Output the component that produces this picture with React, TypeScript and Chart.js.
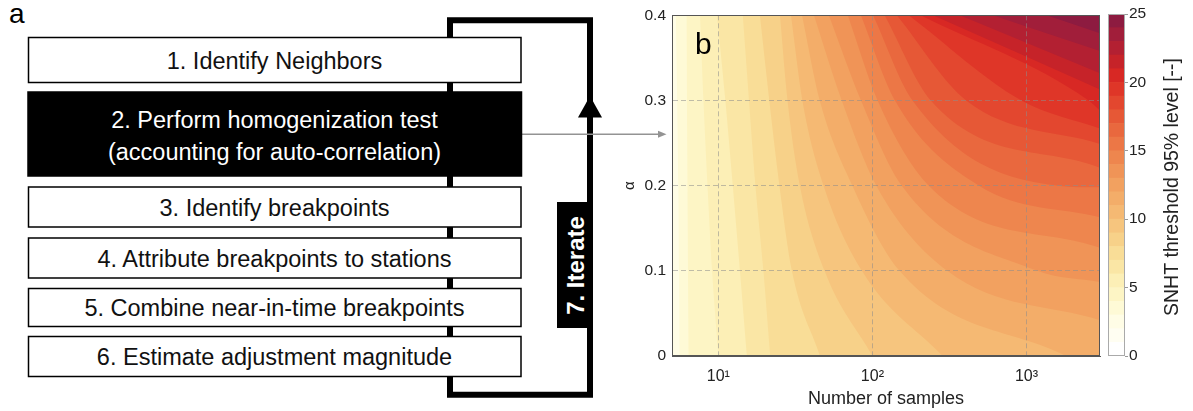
import React, { useEffect, useRef } from 'react';
import { Chart, registerables } from 'chart.js';

Chart.register(...registerables);

const FONT = "'Liberation Sans', Arial, Helvetica, sans-serif";

// ---------------- panel a : flow chart text ----------------
const PANEL_A_LABEL = 'a';
const PANEL_B_LABEL = 'b';
const STEP_LINES: string[][] = [
  ['1. Identify Neighbors'],
  ['2. Perform homogenization test', '(accounting for auto-correlation)'],
  ['3. Identify breakpoints'],
  ['4. Attribute breakpoints to stations'],
  ['5. Combine near-in-time breakpoints'],
  ['6. Estimate adjustment magnitude'],
];
const ITERATE_TEXT = '7. Iterate';

// ---------------- panel b : data ----------------
const X_RANGE = [5, 3000];
const Y_RANGE = [0, 0.4];
const X_TICKS = [10, 100, 1000];
const X_TICK_LABELS = ['10¹', '10²', '10³'];
const Y_TICKS = [0, 0.1, 0.2, 0.3, 0.4];
const Y_TICK_LABELS = ['0', '0.1', '0.2', '0.3', '0.4'];
const X_TITLE = 'Number of samples';
const Y_TITLE = 'α';
const CB_TITLE = 'SNHT threshold 95% level [--]';
const CB_EDGES = [0, 1, 2, 3, 4, 5, 6, 7, 8, 9, 10, 11, 12, 13, 14, 15, 16, 17, 18, 19, 20, 21, 22, 23, 24, 25];
const CB_TICKS = [0, 5, 10, 15, 20, 25];

// colour of the band [k, k+1]
const BAND_COLORS = [
  '#ffffff', '#fffef2', '#fffde6', '#fefad6', '#fdf5c5',
  '#fcefb6', '#fae6a5', '#f9dd97', '#f7d189', '#f6c57e',
  '#f5b973', '#f3ad69', '#f2a160', '#f09457', '#ee864e',
  '#ec7746', '#e9683e', '#e65836', '#e3472f', '#df3628',
  '#d82824', '#c62329', '#b32032', '#a11e3a', '#8d1b40',
];

// contour levels and, for each, the number of samples where it crosses alpha = 0.4, 0.3, 0.2, 0.1, 0
const ALPHA_ROWS = [0.4, 0.3, 0.2, 0.1, 0];
const LEVELS = [3, 4, 5, 6, 7, 8, 9, 10, 11, 12, 13, 14, 15, 16, 17, 18, 19, 20, 21, 22, 23, 24];
const CONTOUR_N: (number | null)[][] = [
  [5.3, 5.4, 5.5, 5.55, 5.6],
  [6.2, 6.25, 6.3, 6.35, 6.4],
  [7.6, 8.0, 8.5, 9.1, 10],
  [9.8, 11.1, 12.4, 13.8, 15.3],
  [14.4, 15.8, 17.4, 19.6, 21.7],
  [18.6, 21.4, 24.9, 30.0, 45.6],
  [25.1, 28.1, 33.8, 48.9, 100],
  [29.6, 35.1, 48.2, 85.5, 285],
  [34.9, 45.5, 74.1, 150, 1800],
  [41.7, 63.2, 106, 306, null],
  [52.1, 84.3, 155, 1180, null],
  [69.2, 108, 232, null, null],
  [84.1, 140, 492, null, null],
  [101, 182, 1600, null, null],
  [120, 239, null, null, null],
  [144, 406, null, null, null],
  [172, 927, null, null, null],
  [206, 2530, null, null, null],
  [247, null, null, null, null],
  [369, null, null, null, null],
  [604, null, null, null, null],
  [1352, null, null, null, null],
];
// alpha where each contour meets the right edge (N = 3000); null when it leaves through the bottom
const EDGE_ALPHA: (number | null)[] = [
  null, null, null, null, null, null, null, null, null,
  0.042, 0.087, 0.127, 0.163, 0.198, 0.221, 0.249, 0.267, 0.288, 0.313, 0.332, 0.358, 0.379,
];

// ---------------- layout of panel a (positions only) ----------------
const BOXES = [
  { x: 28.5, y: 37.5, w: 492.5, h: 45, dark: false, baselines: [69] },
  { x: 28, y: 92, w: 493.5, h: 84, dark: true, baselines: [128, 160] },
  { x: 28.5, y: 187, w: 492.5, h: 40, dark: false, baselines: [215.5] },
  { x: 28.5, y: 238, w: 492.5, h: 40, dark: false, baselines: [267] },
  { x: 28.5, y: 288.5, w: 492.5, h: 38, dark: false, baselines: [316] },
  { x: 28.5, y: 336.5, w: 492.5, h: 40, dark: false, baselines: [364.5] },
];

const GRID_COLOR = 'rgba(140,140,140,0.55)';
const TEXT_COLOR = '#222';

function contourPoints(i: number) {
  const pts: { x: number; y: number }[] = [];
  CONTOUR_N[i].forEach((n, j) => {
    if (n != null) pts.push({ x: n, y: ALPHA_ROWS[j] });
  });
  const edge = EDGE_ALPHA[i];
  if (edge != null) {
    pts.push({ x: X_RANGE[1], y: edge });
  } else {
    // continue the contour just below the axis so the band covers the columns to its right
    const a = pts[pts.length - 2];
    const b = pts[pts.length - 1];
    const ub = Math.log10(b.x);
    const ua = Math.log10(a.x);
    pts.push({ x: Math.pow(10, ub + 0.5 * (ub - ua)), y: -0.05 });
    pts.push({ x: X_RANGE[1] * 10, y: -0.05 });
  }
  return pts;
}

export default function App() {
  const mainRef = useRef<HTMLCanvasElement>(null);
  const cbRef = useRef<HTMLCanvasElement>(null);

  useEffect(() => {
    Chart.defaults.font.family = FONT;
    Chart.defaults.color = TEXT_COLOR;

    const panelPlugin = {
      id: 'panelB',
      beforeDatasetsDraw(chart: any) {
        const { ctx, chartArea: a } = chart;
        ctx.save();
        ctx.fillStyle = BAND_COLORS[LEVELS[0] - 1];
        ctx.fillRect(a.left, a.top, a.right - a.left, a.bottom - a.top);
        ctx.restore();
      },
      afterDraw(chart: any) {
        const { ctx, chartArea: a } = chart;
        ctx.save();
        ctx.strokeStyle = '#555';
        ctx.lineWidth = 1;
        ctx.strokeRect(Math.round(a.left) + 0.5, Math.round(a.top) + 0.5, Math.round(a.right - a.left) - 1, Math.round(a.bottom - a.top) - 1);
        ctx.fillStyle = '#000';
        ctx.font = `30px ${FONT}`;
        ctx.textBaseline = 'alphabetic';
        ctx.textAlign = 'left';
        ctx.fillText(PANEL_B_LABEL, a.left + 23, a.top + 39);
        ctx.restore();
      },
    };

    const datasets = LEVELS.map((L, i) => ({
      label: String(L),
      data: contourPoints(i),
      backgroundColor: BAND_COLORS[L],
      borderColor: 'rgba(0,0,0,0)',
      borderWidth: 0,
      pointRadius: 0,
      fill: 'end',
      cubicInterpolationMode: 'monotone',
      capBezierPoints: false,
      order: -L,
    }));

    const gridColor = (c: any) =>
      c.tick && (c.tick.value === Y_RANGE[0] || c.tick.value === Y_RANGE[1]) ? 'rgba(0,0,0,0)' : GRID_COLOR;

    const main = new Chart(mainRef.current as HTMLCanvasElement, {
      type: 'line',
      data: { datasets } as any,
      options: {
        responsive: false,
        animation: false,
        events: [],
        layout: { padding: { top: 14, right: 2, left: 0, bottom: 0 } },
        plugins: { legend: { display: false }, tooltip: { enabled: false } },
        scales: {
          x: {
            type: 'logarithmic',
            min: X_RANGE[0],
            max: X_RANGE[1],
            afterFit: (s: any) => { s.height = 55; },
            afterBuildTicks: (s: any) => { s.ticks = X_TICKS.map((v) => ({ value: v })); },
            ticks: {
              callback: (_v: any, i: number) => X_TICK_LABELS[i],
              font: { size: 16 },
              color: TEXT_COLOR,
              padding: 11,
              maxRotation: 0,
              autoSkip: false,
            },
            grid: { color: GRID_COLOR, lineWidth: 1, drawTicks: false, z: 1 },
            border: { display: true, color: '#555', width: 1, dash: [5, 3], z: 1 },
            title: { display: true, text: X_TITLE, font: { size: 18 }, color: TEXT_COLOR, padding: { top: 0, bottom: 1 } },
          },
          y: {
            type: 'linear',
            min: Y_RANGE[0],
            max: Y_RANGE[1],
            afterFit: (s: any) => { s.width = 72; },
            afterBuildTicks: (s: any) => { s.ticks = Y_TICKS.map((v) => ({ value: v })); },
            ticks: {
              callback: (_v: any, i: number) => Y_TICK_LABELS[i],
              font: { size: 15.5 },
              color: TEXT_COLOR,
              padding: 6,
            },
            grid: { color: gridColor, lineWidth: 1, drawTicks: false, z: 1 },
            border: { display: true, color: '#555', width: 1, dash: [5, 3], z: 1 },
            title: { display: true, text: Y_TITLE, font: { size: 15 }, color: TEXT_COLOR, padding: { top: 21, bottom: 0 } },
          },
        },
      } as any,
      plugins: [panelPlugin],
    });

    const cbPlugin = {
      id: 'cbFrame',
      afterDraw(chart: any) {
        const { ctx, chartArea: a } = chart;
        ctx.save();
        ctx.strokeStyle = '#aaa';
        ctx.lineWidth = 1;
        ctx.strokeRect(Math.round(a.left) + 0.5, Math.round(a.top) + 0.5, Math.round(a.right - a.left) - 1, Math.round(a.bottom - a.top) - 1);
        ctx.translate(73, (a.top + a.bottom) / 2 + 2);
        ctx.rotate(-Math.PI / 2);
        ctx.fillStyle = TEXT_COLOR;
        ctx.font = `19.5px ${FONT}`;
        ctx.textAlign = 'center';
        ctx.textBaseline = 'middle';
        ctx.fillText(CB_TITLE, 0, 0);
        ctx.restore();
      },
    };

    const cb = new Chart(cbRef.current as HTMLCanvasElement, {
      type: 'bar',
      data: {
        labels: [''],
        datasets: BAND_COLORS.map((c, i) => ({
          data: [[CB_EDGES[i], CB_EDGES[i + 1]]],
          backgroundColor: c,
          borderWidth: 0,
          grouped: false,
          barPercentage: 1,
          categoryPercentage: 1,
        })),
      } as any,
      options: {
        responsive: false,
        animation: false,
        events: [],
        layout: { padding: { top: 14, left: 8, right: 0, bottom: 55 } },
        plugins: { legend: { display: false }, tooltip: { enabled: false } },
        scales: {
          x: { display: false },
          y: {
            position: 'right',
            min: CB_EDGES[0],
            max: CB_EDGES[CB_EDGES.length - 1],
            afterFit: (s: any) => { s.width = 68; },
            afterBuildTicks: (s: any) => { s.ticks = CB_TICKS.map((v) => ({ value: v })); },
            ticks: { font: { size: 15.5 }, color: TEXT_COLOR, padding: 1 },
            grid: { drawOnChartArea: false, drawTicks: true, tickLength: 3, color: '#999' },
            border: { display: false },
          },
        },
      } as any,
      plugins: [cbPlugin],
    });

    return () => {
      main.destroy();
      cb.destroy();
    };
  }, []);

  return (
    <div style={{ position: 'absolute', left: 0, top: 0, width: 1193, height: 411, background: '#fff', overflow: 'hidden' }}>
      <svg width={1193} height={411} style={{ position: 'absolute', left: 0, top: 0 }} fontFamily={FONT}>
        <text x={9} y={23} fontSize={28} fill="#000">{PANEL_A_LABEL}</text>
        {/* iteration loop */}
        <path d="M590 202 V20.3 H450 V394.7 H590 V328" stroke="#000" strokeWidth={6} fill="none" strokeLinejoin="miter" />
        <polygon points="590,96 578,117.5 602,117.5" fill="#000" />
        {/* link to panel b */}
        <line x1={522} y1={134.3} x2={659} y2={134.3} stroke="#939393" strokeWidth={1.5} />
        <polygon points="658,130.8 666.5,134.3 658,137.8" fill="#939393" />
        {BOXES.map((b, i) => (
          <g key={i}>
            <rect x={b.x} y={b.y} width={b.w} height={b.h} fill={b.dark ? '#000' : '#fff'} stroke="#000" strokeWidth={1.5} />
            {STEP_LINES[i].map((t, j) => (
              <text key={j} x={274.5} y={b.baselines[j]} textAnchor="middle" fontSize={23.5} fill={b.dark ? '#fff' : '#111'}>
                {t}
              </text>
            ))}
          </g>
        ))}
        <rect x={557} y={202} width={36} height={126} fill="#000" />
        <text x={0} y={0} transform="translate(583.5 265.5) rotate(-90)" textAnchor="middle" fontSize={24} fontWeight="bold" fill="#fff">
          {ITERATE_TEXT}
        </text>
      </svg>
      <canvas ref={mainRef} width={502} height={411} style={{ position: 'absolute', left: 600, top: 0 }} />
      <canvas ref={cbRef} width={93} height={411} style={{ position: 'absolute', left: 1100, top: 0 }} />
    </div>
  );
}
